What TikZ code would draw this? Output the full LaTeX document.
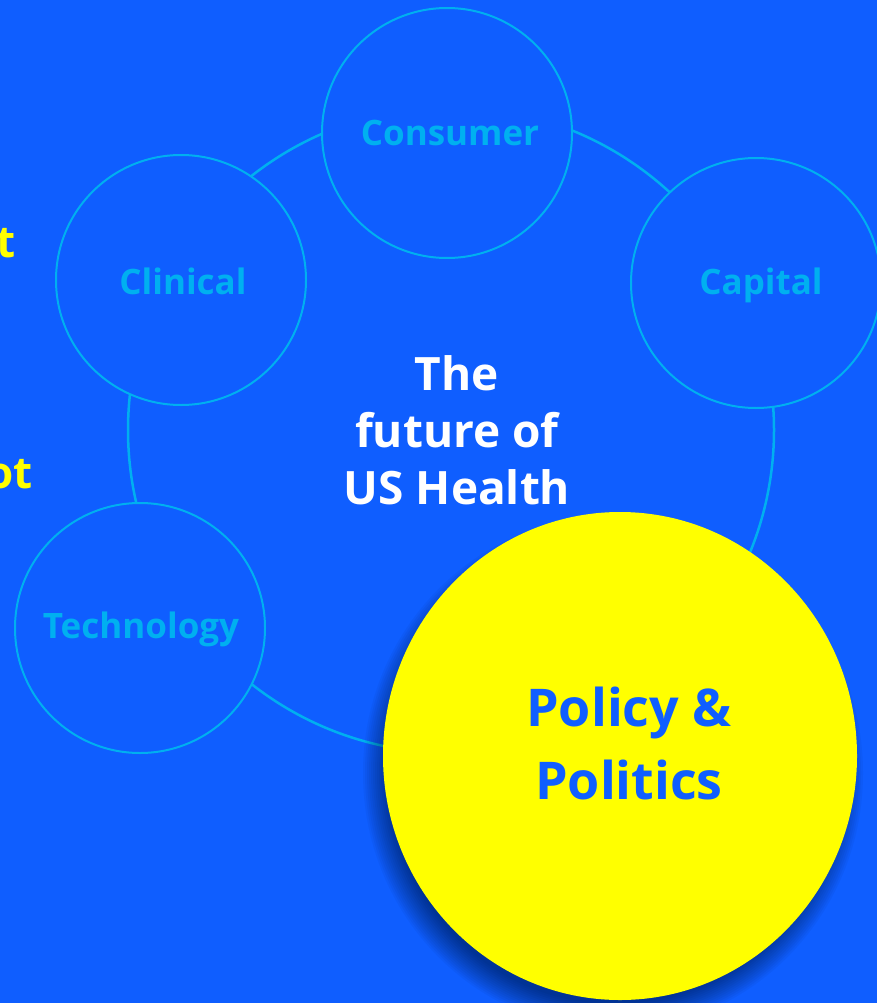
\documentclass[tikz,border=0pt]{standalone}
\usepackage{fontspec}
\setmainfont{Open Sans}
\usetikzlibrary{positioning,shapes.geometric}
\definecolor{bgblue}{HTML}{0F5EFF}
\definecolor{ringcyan}{HTML}{00B0F0}
\definecolor{hotyellow}{HTML}{FFFF00}
\tikzset{
  driver/.style={circle, draw=ringcyan, line width=2pt, fill=bgblue,
    minimum size=250pt, inner sep=0pt},
  driverlabel/.style={text=ringcyan, inner sep=0pt,
    font=\bfseries\fontsize{35}{40}\selectfont},
  focus/.style={ellipse, fill=hotyellow, minimum width=474pt,
    minimum height=488pt, inner sep=0pt},
  focuslabel/.style={text=bgblue, align=center, inner sep=0pt,
    font=\bfseries\fontsize{52}{73}\selectfont},
  cutoff/.style={anchor=base east, inner sep=0pt, text=hotyellow,
    font=\bfseries\fontsize{44}{50}\selectfont},
}
\begin{document}
\begin{tikzpicture}[x=1pt,y=-1pt]
  \useasboundingbox (0,0) rectangle (877,1003);
  \clip (0,0) rectangle (877,1003);
  \fill[bgblue] (0,0) rectangle (877,1003);
  % ring behind the drivers
  \coordinate (hub) at (451,430);
  \draw[ringcyan, line width=2.5pt] (hub) circle [radius=323];
  % cut-off text on the left edge
  \node[cutoff] (cutA) at (16,257) {t};
  \node[cutoff] (cutB) at (33,488) {ot};
  % drivers
  \node[driver] (consumer) at (447,133) {};
  \node[driver] (clinical) at (181,280) {};
  \node[driver] (capital) at (756,283) {};
  \node[driver] (technology) at (140,628) {};
  \node[driverlabel] (consumerlbl) at (450,133) {Consumer};
  \node[driverlabel] (clinicallbl) at (183,281) {Clinical};
  \node[driverlabel] (capitallbl) at (761,285) {Capital};
  \node[driverlabel] (technologylbl) at (141,629) {Technology};
  \node[align=center, text=white, font=\bfseries\fontsize{46}{57}\selectfont]
    (title) at (457,430) {The\\future of\\US Health};
  % shadow of the focus circle
  \foreach \s in {0,2,...,26}
    \fill[black, opacity=0.035] (613,773) ellipse [x radius=224+\s, y radius=231+\s];
  \node[focus] (policy) at (620,756) {};
  \node[focuslabel] (policylbl) at (629,743) {Policy \&\\Politics};
\end{tikzpicture}
\end{document}
